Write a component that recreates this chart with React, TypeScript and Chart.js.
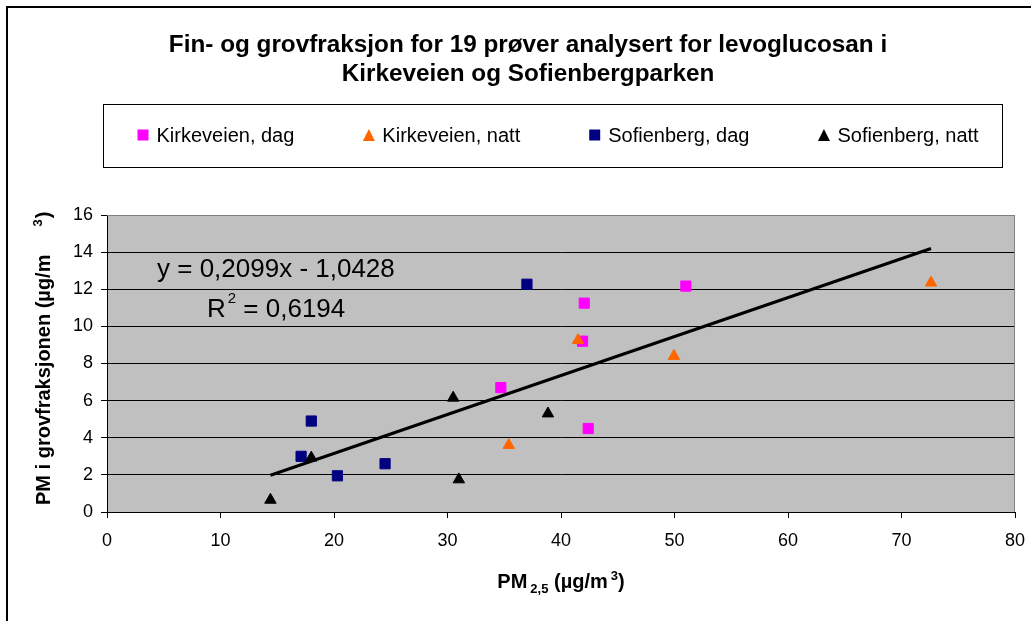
import React, { useEffect, useRef } from 'react';
import { Chart, registerables } from 'chart.js';

Chart.register(...registerables);

const FONT = '"Liberation Sans", Arial, sans-serif';

// ---- Data ----
const seriesLabels = ['Kirkeveien, dag', 'Kirkeveien, natt', 'Sofienberg, dag', 'Sofienberg, natt'];
const seriesColors = ['#FF00FF', '#FF6600', '#000080', '#000000'];
const seriesStyles = ['rect', 'triangle', 'rect', 'triangle'];

const kirkeveienDagX = [34.7, 41.9, 42.05, 42.4, 51.0];
const kirkeveienDagY = [6.7, 9.2, 11.25, 4.5, 12.17];
const kirkeveienNattX = [35.4, 41.5, 49.95, 72.6];
const kirkeveienNattY = [3.6, 9.25, 8.4, 12.35];
const sofienbergDagX = [17.1, 18.0, 20.3, 24.5, 37.0];
const sofienbergDagY = [3.0, 4.9, 1.95, 2.6, 12.27];
const sofienbergNattX = [14.4, 18.0, 30.5, 31.0, 38.85];
const sofienbergNattY = [0.65, 2.92, 6.15, 1.75, 5.3];

const trendSlope = 0.2099;
const trendIntercept = -1.0428;
const trendEquation = 'y = 0,2099x - 1,0428';
const trendR2Value = ' = 0,6194';

const xTickValues = [0, 10, 20, 30, 40, 50, 60, 70, 80];
const yTickValues = [0, 2, 4, 6, 8, 10, 12, 14, 16];

const titleLines = ['Fin- og grovfraksjon for 19 prøver analysert for levoglucosan i', 'Kirkeveien og Sofienbergparken'];

const seriesX = [kirkeveienDagX, kirkeveienNattX, sofienbergDagX, sofienbergNattX];
const seriesY = [kirkeveienDagY, kirkeveienNattY, sofienbergDagY, sofienbergNattY];

function drawMarker(ctx: CanvasRenderingContext2D, style: string, cx: number, cy: number, color: string) {
  ctx.fillStyle = color;
  ctx.beginPath();
  if (style === 'rect') {
    ctx.rect(cx - 5.5, cy - 5.5, 11, 11);
  } else {
    ctx.moveTo(cx, cy - 6);
    ctx.lineTo(cx + 6, cy + 6);
    ctx.lineTo(cx - 6, cy + 6);
    ctx.closePath();
  }
  ctx.fill();
}

const decorPlugin = {
  id: 'excelDecor',
  beforeDraw(chart: any) {
    const { ctx, chartArea: a } = chart;
    ctx.save();
    ctx.fillStyle = '#FFFFFF';
    ctx.fillRect(0, 0, chart.width, chart.height);
    ctx.strokeStyle = '#000000';
    ctx.lineWidth = 2;
    ctx.strokeRect(7, 7, chart.width + 20, chart.height + 20);
    ctx.fillStyle = '#C0C0C0';
    ctx.fillRect(a.left, a.top, a.right - a.left, a.bottom - a.top);
    ctx.restore();
  },
  beforeDatasetsDraw(chart: any) {
    const { ctx, chartArea: a } = chart;
    ctx.save();
    ctx.strokeStyle = '#808080';
    ctx.lineWidth = 1;
    ctx.beginPath();
    ctx.moveTo(a.left, a.top + 0.5);
    ctx.lineTo(a.right - 0.5, a.top + 0.5);
    ctx.lineTo(a.right - 0.5, a.bottom);
    ctx.stroke();
    ctx.restore();
  },
  afterDraw(chart: any) {
    const { ctx, chartArea: a } = chart;
    ctx.save();
    ctx.fillStyle = '#000000';
    ctx.textBaseline = 'alphabetic';

    // Title
    ctx.textAlign = 'center';
    ctx.font = `bold 24.3px ${FONT}`;
    ctx.fillText(titleLines[0], 528, 52);
    ctx.fillText(titleLines[1], 528, 81);

    // Legend
    ctx.textAlign = 'left';
    ctx.strokeStyle = '#000000';
    ctx.lineWidth = 1;
    ctx.strokeRect(103.5, 104.5, 899, 63);
    ctx.font = `20px ${FONT}`;
    let lx = 137.5;
    chart.data.datasets.forEach((ds: any) => {
      if (ds.isTrend) return;
      drawMarker(ctx, ds.pointStyle, lx + 5.5, 135, ds.backgroundColor);
      ctx.fillStyle = '#000000';
      ctx.fillText(ds.label, lx + 19, 142);
      lx += 19 + ctx.measureText(ds.label).width + 69;
    });

    // Trendline label
    ctx.font = `26px ${FONT}`;
    ctx.fillText(trendEquation, 157, 277);
    ctx.fillText('R', 207, 317);
    const rw = ctx.measureText('R').width;
    ctx.font = `15px ${FONT}`;
    ctx.fillText('2', 207 + rw + 2, 303);
    const sw = ctx.measureText('2').width;
    ctx.font = `26px ${FONT}`;
    ctx.fillText(trendR2Value, 207 + rw + 2 + sw, 317);

    // X axis title: PM2,5 (µg/m3)
    const big = `bold 20px ${FONT}`;
    const small = `bold 13px ${FONT}`;
    const xParts = [
      { t: 'PM', f: big, dy: 0, gap: 3 },
      { t: '2,5', f: small, dy: 5, gap: 0 },
      { t: ' (µg/m', f: big, dy: 0, gap: 3 },
      { t: '3', f: small, dy: -8, gap: 0 },
      { t: ')', f: big, dy: 0, gap: 0 },
    ];
    let total = 0;
    xParts.forEach((p) => { ctx.font = p.f; total += ctx.measureText(p.t).width + p.gap; });
    let px = (a.left + a.right) / 2 - total / 2;
    xParts.forEach((p) => {
      ctx.font = p.f;
      ctx.fillText(p.t, px, 588 + p.dy);
      px += ctx.measureText(p.t).width + p.gap;
    });

    // Y axis title (rotated)
    ctx.translate(50, 505);
    ctx.rotate(-Math.PI / 2);
    ctx.font = big;
    const yMain = 'PM i grovfraksjonen (µg/m';
    ctx.fillText(yMain, 0, 0);
    let yx = ctx.measureText(yMain).width + 28;
    ctx.font = small;
    ctx.fillText('3', yx, -8);
    yx += ctx.measureText('3').width + 1;
    ctx.font = big;
    ctx.fillText(')', yx, 0);
    ctx.restore();
  },
};

export default function App() {
  const canvasRef = useRef<HTMLCanvasElement | null>(null);

  useEffect(() => {
    const canvas = canvasRef.current;
    if (!canvas) return;

    const pointSets = seriesLabels.map((label, i) => ({
      label,
      data: seriesX[i].map((x, j) => ({ x, y: seriesY[i][j] })),
      pointStyle: seriesStyles[i],
      backgroundColor: seriesColors[i],
      borderColor: seriesColors[i],
      borderWidth: 1,
      pointRadius: seriesStyles[i] === 'rect' ? 7.2 : 6.6,
      pointHoverRadius: seriesStyles[i] === 'rect' ? 7.2 : 6.6,
      showLine: false,
      order: 10 - i,
    }));

    const allX = seriesX.flat();
    const minX = Math.min(...allX);
    const maxX = Math.max(...allX);

    const trendSet = {
      label: 'Trend',
      isTrend: true,
      data: [
        { x: minX, y: trendSlope * minX + trendIntercept },
        { x: maxX, y: trendSlope * maxX + trendIntercept },
      ],
      showLine: true,
      borderColor: '#000000',
      backgroundColor: '#000000',
      borderWidth: 3,
      pointRadius: 0,
      order: 0,
    };

    const chart = new Chart(canvas, {
      type: 'scatter',
      data: { datasets: [...pointSets, trendSet] as any },
      options: {
        animation: false,
        responsive: false,
        devicePixelRatio: 1,
        events: [],
        layout: { padding: { left: 0, top: 215, right: 16, bottom: 0 } },
        plugins: {
          legend: { display: false },
          title: { display: false },
          tooltip: { enabled: false },
        },
        scales: {
          x: {
            type: 'linear',
            min: 0,
            max: 80,
            afterFit: (scale: any) => {
              scale.height = 109;
              scale.paddingLeft = 0;
              scale.paddingRight = 0;
            },
            afterBuildTicks: (scale: any) => { scale.ticks = xTickValues.map((v) => ({ value: v })); },
            ticks: {
              color: '#000000',
              font: { family: FONT, size: 18 },
              padding: 12,
              maxRotation: 0,
              callback: (v: any) => String(v),
            },
            grid: { drawOnChartArea: false, drawTicks: true, tickLength: 6, tickColor: '#000000', color: '#000000' },
            border: { display: true, color: '#000000', width: 1 },
          },
          y: {
            type: 'linear',
            min: 0,
            max: 16,
            afterFit: (scale: any) => {
              scale.width = 107;
              scale.paddingTop = 0;
              scale.paddingBottom = 0;
            },
            afterBuildTicks: (scale: any) => { scale.ticks = yTickValues.map((v) => ({ value: v })); },
            ticks: {
              color: '#000000',
              font: { family: FONT, size: 18 },
              padding: 8,
              callback: (v: any) => String(v),
            },
            grid: {
              drawOnChartArea: true,
              drawTicks: true,
              tickLength: 6,
              tickColor: '#000000',
              color: (c: any) => (c.tick && c.tick.value === 16 ? '#808080' : '#000000'),
              lineWidth: 1,
            },
            border: { display: true, color: '#000000', width: 1 },
          },
        },
      },
      plugins: [decorPlugin],
    } as any);

    return () => chart.destroy();
  }, []);

  return (
    <div style={{ position: 'fixed', left: 0, top: 0, width: 1031, height: 621, background: '#fff' }}>
      <canvas ref={canvasRef} width={1031} height={621} style={{ display: 'block', width: 1031, height: 621 }} />
    </div>
  );
}
